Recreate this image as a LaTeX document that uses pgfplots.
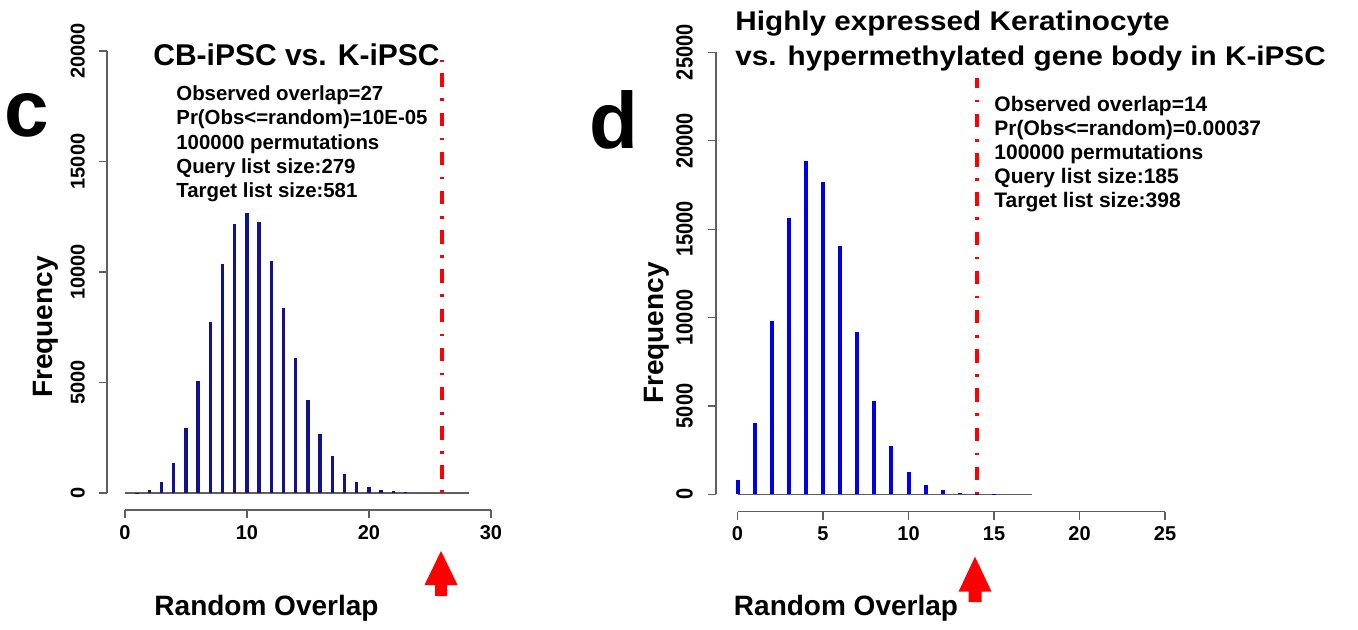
\documentclass[border=0pt]{standalone}
\usepackage{fontspec}
\setmainfont{Liberation Sans}
\usepackage{pgfplots}
\pgfplotsset{compat=1.18}

\definecolor{barnavy}{RGB}{18,18,140}
\definecolor{barblue}{RGB}{0,0,230}
\definecolor{axgray}{RGB}{95,95,95}

\pgfplotsset{
  rplot/.style={
    scale only axis, clip=false,
    axis lines=left, axis line style={-, axgray, line width=0.6pt},
    tick align=outside, major tick length=4pt,
    tick style={axgray, line width=0.6pt},
    xmin=0, ymin=0,
    scaled ticks=false,
    /pgf/number format/fixed,
    /pgf/number format/1000 sep={},
    /pgf/number format/assume math mode=true,
    tick label style={font=\bfseries\fontsize{10}{12}\selectfont, black},
    yticklabel style={rotate=90, anchor=south, yshift=3.5pt},
  },
  obsline/.style={red, line width=1.9pt, dash pattern=on 1.3pt off 5.8pt on 6.7pt off 5.8pt},
}

\begin{document}
\begin{tikzpicture}
\begin{scope}[x=0.5pt,y=0.5pt]
\path[use as bounding box] (0,0) rectangle (1358,629);
\end{scope}

% panel c
\begin{axis}[rplot, at={(62.5pt,68pt)}, anchor=south west,
  width=183pt, height=221pt, xmax=30, ymax=20000,
  xtick={0,10,20,30}, ytick={0,5000,...,20000},
  axis x line shift=8.5pt, axis y line shift=9pt]
\addplot[axgray, line width=0.6pt] coordinates {(0,0)(28.2,0)};
\addplot[ycomb, barnavy, line width=1.7pt, mark=none] coordinates {
(1,20)(2,150)(3,500)(4,1340)(5,2930)(6,5080)(7,7750)(8,10360)(9,12160)(10,12660)
(11,12280)(12,10510)(13,8360)(14,6120)(15,4210)(16,2650)(17,1670)(18,850)(19,500)
(20,260)(21,150)(22,75)(23,40)};
\addplot[obsline] coordinates {(26,0)(26,19600)};
\end{axis}

% panel d
\begin{axis}[rplot, at={(368.75pt,67.35pt)}, anchor=south west,
  width=213.75pt, height=221pt, xmax=25, ymax=25000,
  xtick={0,5,...,25}, ytick={0,5000,...,25000},
  yticklabel style={yscale=1.17},
  axis x line shift=8.7pt, axis y line shift=10.75pt]
\addplot[axgray, line width=0.6pt] coordinates {(0,0)(17.2,0)};
\addplot[ycomb, barblue, line width=2pt, mark=none] coordinates {
(0,810)(1,4020)(2,9820)(3,15610)(4,18850)(5,17680)(6,14040)(7,9200)(8,5280)
(9,2750)(10,1240)(11,530)(12,240)(13,100)(14,40)(15,20)};
\addplot[obsline] coordinates {(14,0)(14,23550)};
\end{axis}

\begin{scope}[x=0.5pt,y=0.5pt, every node/.style={inner sep=0pt}]
% panel letters
\node[font=\bfseries\fontsize{40}{40}\selectfont, anchor=base] at (26.7,492.3) {c};
\node[font=\bfseries\fontsize{40}{40}\selectfont, anchor=base] at (614,480.7) {d};
% titles
\node[font=\bfseries\fontsize{15}{18}\selectfont, anchor=base] at (296.5,563.5) {CB-iPSC vs. K-iPSC};
\node[font=\bfseries\fontsize{13.5}{15}\selectfont, anchor=base west, xscale=1.1] at (735,598.3) {Highly expressed Keratinocyte};
\node[font=\bfseries\fontsize{13.5}{15}\selectfont, anchor=base west, xscale=1.1] at (735,564) {vs. hypermethylated gene body in K-iPSC};
% annotations c
\begin{scope}[every node/.append style={font=\bfseries\fontsize{10.2}{12}\selectfont, anchor=base west}]
\node at (176,529) {Observed overlap=27};
\node at (176,504.7) {Pr(Obs<=random)=10E-05};
\node at (176,480) {100000 permutations};
\node at (176,455.7) {Query list size:279};
\node at (176,431.7) {Target list size:581};
\end{scope}
% annotations d
\begin{scope}[every node/.append style={font=\bfseries\fontsize{10.5}{12}\selectfont, anchor=base west}]
\node at (994,518) {Observed overlap=14};
\node at (994,493.8) {Pr(Obs<=random)=0.00037};
\node at (994,469.6) {100000 permutations};
\node at (994,445.4) {Query list size:185};
\node at (994,421.2) {Target list size:398};
\end{scope}
% axis labels
\node[font=\bfseries\fontsize{14}{16}\selectfont, rotate=90] at (46,302) {Frequency};
\node[font=\bfseries\fontsize{14}{16}\selectfont, rotate=90] at (657,296) {Frequency};
\node[font=\bfseries\fontsize{14}{16}\selectfont, anchor=base] at (266.5,14) {Random Overlap};
\node[font=\bfseries\fontsize{14}{16}\selectfont, anchor=base] at (846,14) {Random Overlap};
% red arrows
\fill[red] (441,78) -- (424.5,44) -- (435,44) -- (435,33) -- (447,33) -- (447,44) -- (457.5,44) -- cycle;
\fill[red] (975,72.3) -- (958.5,37.3) -- (968.5,37.3) -- (968.5,27) -- (981.5,27) -- (981.5,37.3) -- (991.5,37.3) -- cycle;
\end{scope}
\end{tikzpicture}
\end{document}
